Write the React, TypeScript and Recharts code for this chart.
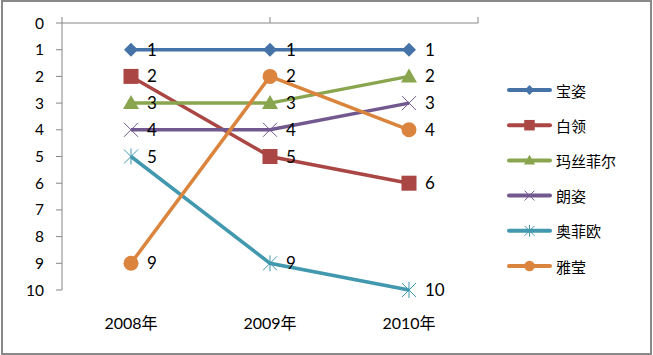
import React from 'react';
import { LineChart, Line, XAxis, YAxis, Legend } from 'recharts';

const categories = ['2008年', '2009年', '2010年'];
const seriesNames = ['宝姿', '白领', '玛丝菲尔', '朗姿', '奥菲欧', '雅莹'];
const baozi = [1, 1, 1];
const bailing = [2, 5, 6];
const masifeier = [3, 3, 2];
const langzi = [4, 4, 3];
const aofeiou = [5, 9, 10];
const yaying = [9, 2, 4];
const yTicks = [0, 1, 2, 3, 4, 5, 6, 7, 8, 9, 10];
const topTicks = [0, 1, 2, 3];

const seriesValues = [baozi, bailing, masifeier, langzi, aofeiou, yaying];
const colors = ['#4572A7', '#AA4643', '#89A54E', '#71588F', '#4198AF', '#DB843D'];
const markers = ['diamond', 'square', 'triangle', 'x', 'star', 'circle'];

const data = categories.map((cat, i) => {
  const row: Record<string, any> = { cat };
  seriesNames.forEach((n, s) => {
    row[n] = seriesValues[s][i];
  });
  return row;
});

const FONT = "Lato, 'Noto Sans CJK SC', sans-serif";
const AXIS = '#868686';

function marker(type: string, cx: number, cy: number, color: string, k: number, key?: string) {
  switch (type) {
    case 'diamond': {
      const h = 7 * k;
      return <polygon key={key} points={`${cx},${cy - h} ${cx + h},${cy} ${cx},${cy + h} ${cx - h},${cy}`} fill={color} />;
    }
    case 'square': {
      const h = 7.5 * k;
      return <rect key={key} x={cx - h} y={cy - h} width={2 * h} height={2 * h} fill={color} />;
    }
    case 'triangle': {
      const w = 8 * k;
      return <polygon key={key} points={`${cx},${cy - 8 * k} ${cx + w},${cy + 6 * k} ${cx - w},${cy + 6 * k}`} fill={color} />;
    }
    case 'x': {
      const h = 7 * k;
      return (
        <g key={key} stroke={color} strokeWidth={1}>
          <line x1={cx - h} y1={cy - h} x2={cx + h} y2={cy + h} />
          <line x1={cx - h} y1={cy + h} x2={cx + h} y2={cy - h} />
        </g>
      );
    }
    case 'star': {
      const h = 7 * k;
      return (
        <g key={key} stroke={color} strokeWidth={1}>
          <line x1={cx - h} y1={cy - h} x2={cx + h} y2={cy + h} />
          <line x1={cx - h} y1={cy + h} x2={cx + h} y2={cy - h} />
          <line x1={cx} y1={cy - h - 1} x2={cx} y2={cy + h + 1} />
        </g>
      );
    }
    default:
      return <circle key={key} cx={cx} cy={cy} r={7.5 * k} fill={color} />;
  }
}

const BottomTick = (props: any) => {
  const { x, payload } = props;
  return (
    <text x={x} y={322} textAnchor="middle" dominantBaseline="central" fill="#000" fontSize={16} fontFamily={FONT}>
      {payload.value}
    </text>
  );
};

const LegendContent = () => (
  <svg width={150} height={220}>
    {seriesNames.map((n, i) => {
      const y = 20 + i * 35.2;
      return (
        <g key={n}>
          <line x1={10} y1={y} x2={51} y2={y} stroke={colors[i]} strokeWidth={4} strokeLinecap="round" />
          {marker(markers[i], 30.5, y, colors[i], 0.7)}
          <text x={57} y={y} dominantBaseline="central" fontSize={15} fill="#000" fontFamily="'Noto Sans CJK SC', sans-serif">
            {n}
          </text>
        </g>
      );
    })}
  </svg>
);

export default function App() {
  return (
    <div style={{ position: 'absolute', left: 0, top: 0, width: 653, height: 355, background: '#fff' }}>
      <LineChart width={653} height={355} data={data} margin={{ top: 6, right: 175, bottom: 25, left: 2 }}>
        <XAxis
          xAxisId="top"
          orientation="top"
          type="number"
          domain={[0, 3]}
          ticks={topTicks}
          allowDataOverflow
          height={17}
          axisLine={{ stroke: AXIS }}
          tickLine={{ stroke: AXIS }}
          tickSize={6}
          tickFormatter={() => ''}
        />
        <XAxis
          xAxisId="bottom"
          dataKey="cat"
          type="category"
          padding={{ left: 69, right: 69 }}
          height={40}
          axisLine={false}
          tickLine={false}
          tick={<BottomTick />}
          interval={0}
        />
        <YAxis
          reversed
          type="number"
          domain={[0, 10]}
          ticks={yTicks}
          interval={0}
          width={60}
          axisLine={{ stroke: AXIS }}
          tickLine={{ stroke: AXIS }}
          tickSize={6}
          tickMargin={12}
          tick={{ fill: '#000', fontSize: 15.5, fontFamily: FONT }}
        />
        <Legend
          layout="horizontal"
          verticalAlign="middle"
          content={<LegendContent />}
          wrapperStyle={{ left: 499, top: 70, width: 150, height: 220 }}
        />
        {seriesNames.map((n, i) => (
          <Line
            key={n}
            xAxisId="bottom"
            dataKey={n}
            type="linear"
            stroke={colors[i]}
            strokeWidth={3.5}
            isAnimationActive={false}
            activeDot={false}
            dot={(p: any) => marker(markers[i], p.cx, p.cy, colors[i], 1, `${n}-${p.index}`)}
            label={{ position: 'right', offset: 16, fill: '#000', fontSize: 17, fontFamily: FONT }}
          />
        ))}
      </LineChart>
      <div
        style={{
          position: 'absolute',
          left: 1,
          top: 0,
          width: 651,
          height: 355,
          border: `2px solid #898989`,
          boxSizing: 'border-box',
          pointerEvents: 'none',
        }}
      />
    </div>
  );
}
